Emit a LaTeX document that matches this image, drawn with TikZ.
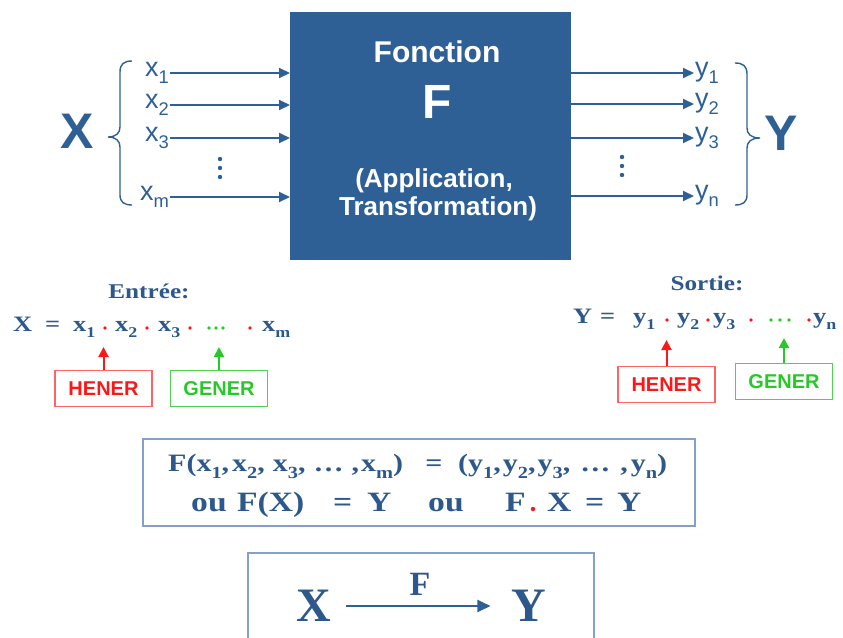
\documentclass[tikz,border=0pt]{standalone}
\usepackage{fontspec}
\usepackage{graphicx}
\setmainfont{Liberation Serif}
\newfontfamily\arial{Liberation Sans}
\newfontfamily\wserif[FakeStretch=1.2]{Liberation Serif}
\usetikzlibrary{arrows.meta}
\definecolor{fblue}{RGB}{46,96,150}
\definecolor{tblue}{RGB}{44,88,140}
\definecolor{lblue}{RGB}{130,160,200}
\definecolor{hred}{RGB}{250,25,25}
\definecolor{hredb}{RGB}{255,100,100}
\definecolor{ggreen}{RGB}{40,200,40}
\definecolor{ggreenb}{RGB}{80,210,80}
\newcommand\fsz[1]{\fontsize{#1}{#1}\selectfont}
\newcommand\lo[1]{\raisebox{-0.28em}{\scalebox{0.68}{#1}}}
\begin{document}
\begin{tikzpicture}[x=1pt,y=-1pt,
 sanslab/.style={text=fblue, font=\arial\fsz{27}, inner sep=1pt},
 bigsans/.style={text=fblue, font=\arial\bfseries\fsz{50}, inner sep=0pt},
 wtext/.style={text=white, inner sep=0pt, anchor=base},
 flow/.style={draw=fblue, line width=2pt, -{Triangle[length=11pt,width=10pt]}},
 brace/.style={draw=fblue, line width=1.4pt},
 ser/.style={text=tblue, font=\wserif\bfseries\fsz{22}, inner sep=0pt, anchor=base west},
 fser/.style={text=tblue, font=\wserif\bfseries\fsz{25}, inner sep=0pt, anchor=base west},
 gser/.style={text=tblue, font=\wserif\bfseries\fsz{28}, inner sep=0pt, anchor=base west},
 rdot/.style={circle, fill=hred, inner sep=0pt, minimum size=3.6pt},
 gdot/.style={circle, fill=ggreen, inner sep=0pt, minimum size=3.6pt},
 hbox/.style={draw=hredb, line width=1.2pt, text=hred, font=\arial\bfseries\fsz{20}, minimum width=97pt, minimum height=36pt, inner sep=0pt},
 gbox/.style={draw=ggreenb, line width=1.2pt, text=ggreen, font=\arial\bfseries\fsz{20}, minimum width=97pt, minimum height=36pt, inner sep=0pt},
 rarr/.style={draw=hred, line width=2pt, -{Triangle[length=10pt,width=10pt]}},
 garr/.style={draw=ggreen, line width=2pt, -{Triangle[length=10pt,width=10pt]}},
 frame/.style={draw=lblue, line width=1.2pt, inner sep=0pt},
]
\useasboundingbox (0,0) rectangle (843,637);
% main box
\node[fill=fblue, minimum width=281pt, minimum height=248pt, inner sep=0pt, outer sep=0pt] (F) at (430.5,136) {};
\node[wtext, font=\arial\bfseries\fsz{30}] (t1) at (437,62) {Fonction};
\node[wtext, font=\arial\bfseries\fsz{48}] (t2) at (437,118) {F};
\node[wtext, font=\arial\bfseries\fsz{26}] (t3) at (434,187) {(Application,};
\node[wtext, font=\arial\bfseries\fsz{26}] (t4) at (438,215) {Transformation)};
% inputs
\node[sanslab, anchor=east] (x1) at (170,73) {x\lo{1}};
\node[sanslab, anchor=east] (x2) at (170,105) {x\lo{2}};
\node[sanslab, anchor=east] (x3) at (170,138) {x\lo{3}};
\node[sanslab, anchor=east] (xm) at (170,197) {x\lo{m}};
\foreach \n in {x1,x2,x3,xm} \draw[flow] (\n.east) -- (\n.east -| F.west);
% outputs
\node[sanslab, anchor=west] (y1) at (694,73) {y\lo{1}};
\node[sanslab, anchor=west] (y2) at (694,104) {y\lo{2}};
\node[sanslab, anchor=west] (y3) at (694,138) {y\lo{3}};
\node[sanslab, anchor=west] (yn) at (694,196) {y\lo{n}};
\foreach \n in {y1,y2,y3,yn} \draw[flow] (\n.west -| F.east) -- (\n.west);
% vertical dots
\fill[fblue] (220,159) circle (2.2) (220,168) circle (2.2) (220,177) circle (2.2);
\fill[fblue] (622,157) circle (2.2) (622,166) circle (2.2) (622,175) circle (2.2);
% braces and big letters
\draw[brace] (132,61) .. controls (124,61) and (120,64) .. (120,72) -- (120,127) .. controls (120,133) and (116,137) .. (108,137) .. controls (116,137) and (120,141) .. (120,147) -- (120,195) .. controls (120,202) and (124,205) .. (132,205);
\draw[brace] (735,63) .. controls (743,63) and (747,66) .. (747,74) -- (747,128) .. controls (747,134) and (751,138) .. (760,138) .. controls (751,138) and (747,142) .. (747,148) -- (747,195) .. controls (747,202) and (743,205) .. (735,205);
\node[bigsans] (X) at (77,131) {X};
\node[bigsans] (Y) at (781,133) {Y};
% Entree
\node[ser, anchor=base, font=\wserif\bfseries\fsz{21}] (ent) at (149,298) {Entrée:};
\node[ser] (lX) at (13,331) {X};
\node[ser] (leq) at (45,331) {=};
\node[ser] (lx1) at (73,331) {x\lo{1}};
\node[rdot] (ld1) at (105,328) {};
\node[ser] (lx2) at (115,331) {x\lo{2}};
\node[rdot] (ld2) at (147,328) {};
\node[ser] (lx3) at (158,331) {x\lo{3}};
\node[rdot] (ld3) at (190,328) {};
\node[gdot] (lg1) at (209,328) {};
\node[gdot] (lg2) at (216,328) {};
\node[gdot] (lg3) at (223,328) {};
\node[rdot] (ld4) at (250,328) {};
\node[ser] (lxm) at (262,331) {x\lo{m}};
\node[hbox] (hl) at (103.5,388.5) {HENER};
\node[gbox] (gl) at (219,388.5) {GENER};
\draw[rarr, shorten >=17pt] (hl.north) -- (hl.north |- ld1.south);
\draw[garr, shorten >=17pt] (gl.north) -- (gl.north |- lg2.south);
% Sortie
\node[ser, anchor=base, font=\wserif\bfseries\fsz{21}] (sor) at (707,290) {Sortie:};
\node[ser] (rY) at (573,323) {Y};
\node[ser] (req) at (600,323) {=};
\node[ser] (ry1) at (633,323) {y\lo{1}};
\node[rdot] (rd1) at (667,320) {};
\node[ser] (ry2) at (677,323) {y\lo{2}};
\node[rdot] (rd2) at (708,320) {};
\node[ser] (ry3) at (713,323) {y\lo{3}};
\node[rdot] (rd3) at (751,320) {};
\node[gdot] (rg1) at (771,320) {};
\node[gdot] (rg2) at (780,320) {};
\node[gdot] (rg3) at (789,320) {};
\node[rdot] (rd4) at (809,320) {};
\node[ser] (ryn) at (813,323) {y\lo{n}};
\node[hbox] (hr) at (666.5,384.5) {HENER};
\node[gbox] (gr) at (784,381.5) {GENER};
\draw[rarr, shorten >=18pt] (hr.north) -- (hr.north |- rd1.south);
\draw[garr, shorten >=16pt] (gr.north) -- (gr.north |- rg2.south);
% formula box
\node[frame, minimum width=552pt, minimum height=87pt] (fb) at (419,482.5) {};
\node[fser] (f1a) at (168,471) {F(x\lo{1},\hspace{3pt}x\lo{2},\hspace{8pt}x\lo{3},\hspace{8pt}\dots\hspace{8pt},\hspace{2pt}x\lo{m})};
\node[fser, anchor=base] (f1e) at (434,471) {=};
\node[fser] (f1b) at (458,471) {(y\lo{1},\hspace{2pt}y\lo{2},\hspace{2pt}y\lo{3},\hspace{10pt}\dots\hspace{10pt},\hspace{3pt}y\lo{n})};
\node[gser] (o1) at (191,511) {ou};
\node[gser] (fx) at (237,511) {F(X)};
\node[gser] (e1) at (333,511) {=};
\node[gser] (ya) at (367,511) {Y};
\node[gser] (o2) at (428,511) {ou};
\node[gser] (fF) at (505,511) {F};
\node[rdot, minimum size=4.5pt] (fd) at (533,509) {};
\node[gser] (fX) at (547,511) {X};
\node[gser] (e2) at (585,511) {=};
\node[gser] (fY) at (617,511) {Y};
% bottom box
\node[frame, minimum width=346pt, minimum height=100pt] (bb) at (421,603) {};
\node[text=tblue, font=\bfseries\fsz{48}, inner sep=0pt] (bX) at (313.5,606) {X};
\node[text=tblue, font=\bfseries\fsz{48}, inner sep=0pt] (bY) at (529,606) {Y};
\draw[flow, -{Triangle[length=13pt,width=12pt]}, shorten <=15pt, shorten >=21pt] (bX.east) -- (bY.west);
\node[text=tblue, font=\bfseries\fsz{34}, inner sep=0pt, anchor=base] (bF) at (420,595) {F};
\end{tikzpicture}
\end{document}
